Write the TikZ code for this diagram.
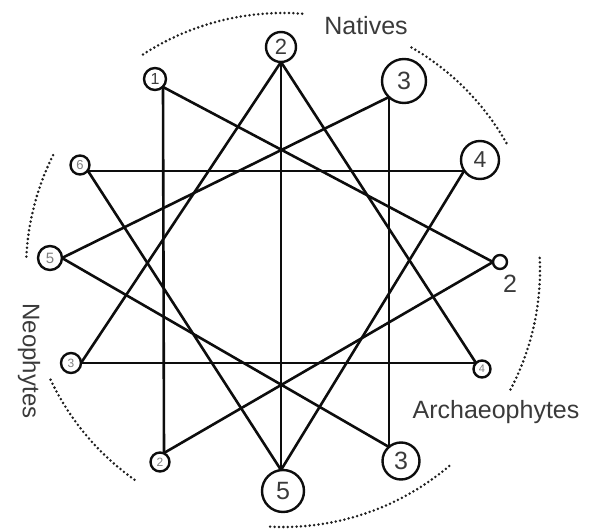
\documentclass[tikz,border=0pt]{standalone}
\usepackage{fontspec}
\setmainfont{Liberation Sans}
\definecolor{txt}{HTML}{3A3A3A}
\definecolor{faint}{HTML}{808080}
\tikzset{
  edge/.style={line width=2.6pt, draw=black!95, line cap=round},
  ring/.style={circle, draw=black!95, line width=2.4pt, fill=white, inner sep=0pt, text=txt},
  dots/.style={line width=2.8pt, dash pattern=on 0pt off 4.4pt, line cap=round, draw=black!88},
  grp/.style={text=txt, font=\fontsize{25}{25}\selectfont, inner sep=0pt}
}
\begin{document}
\begin{tikzpicture}[x=1pt,y=1pt]
\useasboundingbox (0,0) rectangle (602,-529);
% vertices where the connectors meet
\coordinate (v1) at (163,-87);
\coordinate (v2) at (281,-62);
\coordinate (v3) at (389,-97);
\coordinate (v4) at (464,-171);
\coordinate (v6) at (88,-171);
\coordinate (v5l) at (62,-258);
\coordinate (v2r) at (493,-262);
\coordinate (v7) at (81,-363);
\coordinate (v4s) at (476,-363);
\coordinate (vbl) at (164,-453);
\coordinate (v5b) at (281,-470);
\coordinate (v3b) at (389,-447);
% connectors
\draw[edge] (v1) -- (vbl);
\draw[edge] (v1) -- (v2r);
\draw[edge] (v2) -- (v7);
\draw[edge] (v2) -- (v4s);
\draw[edge] (v2) -- (v5b);
\draw[edge] (v3) -- (v3b);
\draw[edge] (v3) -- (v5l);
\draw[edge] (v6) -- (v4);
\draw[edge] (v6) -- (v5b);
\draw[edge] (v4) -- (v5b);
\draw[edge] (v5l) -- (v3b);
\draw[edge] (v2r) -- (vbl);
\draw[edge] (v7) -- (v4s);
% circles
\node[ring, minimum size=22pt, font=\fontsize{16}{16}\selectfont] (n1) at (155,-79) {1};
\node[ring, minimum size=30pt, font=\fontsize{22}{22}\selectfont] (n2) at (281,-47) {2};
\node[ring, minimum size=44pt, font=\fontsize{25}{25}\selectfont] (n3) at (404,-81) {3};
\node[ring, minimum size=38pt, font=\fontsize{23}{23}\selectfont] (n4) at (480,-160) {4};
\node[ring, minimum size=19pt, text=faint, font=\fontsize{13}{13}\selectfont] (n6) at (80,-165) {6};
\node[ring, minimum size=24pt, text=faint, font=\fontsize{15}{15}\selectfont] (n5l) at (50,-258) {5};
\node[ring, minimum size=14pt] (n2r) at (500,-262) {};
\node[ring, minimum size=20pt, text=faint, font=\fontsize{12}{12}\selectfont] (n7) at (71,-363) {3};
\node[ring, minimum size=17pt, text=faint, font=\fontsize{11}{11}\selectfont] (n4s) at (482,-369) {4};
\node[ring, minimum size=19pt, text=faint, font=\fontsize{12}{12}\selectfont] (nbl) at (160,-462) {2};
\node[ring, minimum size=42pt, font=\fontsize{25}{25}\selectfont] (n5b) at (283,-491) {5};
\node[ring, minimum size=37pt, font=\fontsize{25}{25}\selectfont] (n3b) at (401,-461) {3};
\node[grp] (l2r) at (510,-284) {2};
% group labels
\node[grp] (nat) at (366,-26) {Natives};
\node[grp] (arc) at (496,-412) {Archaeophytes};
\node[grp, font=\fontsize{24}{24}\selectfont, rotate=-90] (neo) at (29,-361) {Neophytes};
% dotted arcs
\coordinate (c) at (283,-270);
\draw[dots] (c) ++(123:257pt) arc[start angle=123, end angle=85, radius=257pt];
\draw[dots] (c) ++(60:257pt) arc[start angle=60, end angle=29.5, radius=257pt];
\draw[dots] (c) ++(2.7:257pt) arc[start angle=2.7, end angle=-28, radius=257pt];
\draw[dots] (c) ++(-49.7:257pt) arc[start angle=-49.7, end angle=-93, radius=257pt];
\draw[dots] (c) ++(-125.3:257pt) arc[start angle=-125.3, end angle=-155, radius=257pt];
\draw[dots] (c) ++(177:257pt) arc[start angle=177, end angle=153, radius=257pt];
\end{tikzpicture}
\end{document}
